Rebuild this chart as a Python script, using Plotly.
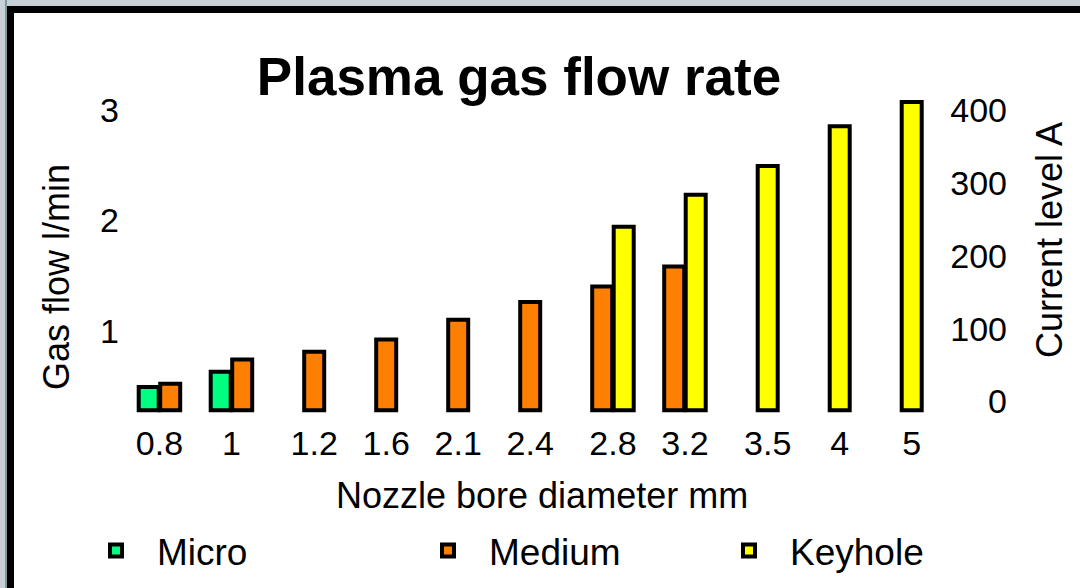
import plotly.graph_objects as go

# ---------------- data ----------------
diameters = ["0.8", "1", "1.2", "1.6", "2.1", "2.4", "2.8", "3.2", "3.5", "4", "5"]
micro = [0.49, 0.63, None, None, None, None, None, None, None, None, None]
medium = [0.52, 0.74, 0.81, 0.92, 1.10, 1.26, 1.40, 1.58, None, None, None]
keyhole = [None, None, None, None, None, None, 1.94, 2.23, 2.49, 2.85, 3.07]
series_names = ["Micro", "Medium", "Keyhole"]
flow_ticks = [1, 2, 3]
current_ticks = [0, 100, 200, 300, 400]
BAR_FLOOR = 0.28  # gas-flow level at which the bars start

# ---------------- styling / layout constants ----------------
FONT = "Liberation Sans, Arial, sans-serif"
COLORS = ["#00ff80", "#ff8000", "#ffff00"]
W, H = 1080, 588
PL, PR_PLOT, PT, PB = 118, 936, 88, 450      # plot area in pixels
PAPER_R = 1015                                # right edge of paper area
BARGAP = 0.104
FLOW_RANGE = [-0.079, 3.196]
CURRENT_RANGE = [-66.8, 431.0]
X_RANGE = [-0.725, 10.636]


def px_x(p):
    return (p - PL) / (PAPER_R - PL)


def px_y(p):
    return (PB - p) / (PB - PT)


series = [micro, medium, keyhole]
idx = list(range(len(diameters)))

fig = go.Figure()
for k, (name, vals, col) in enumerate(zip(series_names, series, COLORS)):
    fig.add_trace(go.Bar(
        name=name,
        x=idx,
        y=[None if v is None else v - BAR_FLOOR for v in vals],
        base=BAR_FLOOR,
        marker=dict(color=col, line=dict(color="black", width=4)),
        legend=["legend", "legend2", "legend3"][k],
        hovertemplate=name + ": %{customdata}<extra></extra>",
        customdata=vals,
    ))

# the current-level axis (right) carries no marks of its own
fig.add_trace(go.Scatter(x=[None], y=[None], yaxis="y2", mode="markers",
                         showlegend=False, hoverinfo="skip"))

# tick labels centred under the bars that are present in each group
slot = (1 - BARGAP) / len(series)
tickvals = []
for i in idx:
    present = [k for k, s in enumerate(series) if s[i] is not None]
    mean_k = sum(present) / len(present)
    tickvals.append(i + (mean_k - (len(series) - 1) / 2) * slot)

tickfont = dict(family=FONT, size=34, color="black")
legfont = dict(family=FONT, size=37, color="black")

legend_common = dict(orientation="h", font=legfont, bgcolor="rgba(0,0,0,0)",
                     yanchor="middle", y=px_y(551), xanchor="left",
                     itemwidth=72, traceorder="normal")

fig.update_layout(
    width=W, height=H,
    template="none",
    paper_bgcolor="white", plot_bgcolor="white",
    margin=dict(l=PL, r=W - PAPER_R, t=PT, b=H - PB, autoexpand=False),
    barmode="group", bargap=BARGAP, bargroupgap=0.07,
    font=dict(family=FONT, color="black"),
    title=dict(text="<b>Plasma gas flow rate</b>",
               font=dict(family=FONT, size=53, color="black"),
               x=519 / W, xanchor="center", xref="container",
               y=1 - 76 / H, yanchor="middle", yref="container"),
    xaxis=dict(domain=[0, px_x(PR_PLOT)], range=X_RANGE,
               tickmode="array", tickvals=tickvals, ticktext=diameters,
               tickfont=tickfont, showgrid=False, zeroline=False,
               showline=False, ticks="", ticklabelstandoff=-30),
    yaxis=dict(range=FLOW_RANGE, tickmode="array", tickvals=flow_ticks,
               tickfont=tickfont, showgrid=False, zeroline=False,
               showline=False, ticks="", ticklabelstandoff=-2),
    yaxis2=dict(range=CURRENT_RANGE, overlaying="y", side="right",
                anchor="free", position=px_x(1010),
                ticklabelposition="inside",
                tickmode="array", tickvals=current_ticks,
                tickfont=tickfont, showgrid=False, zeroline=False,
                showline=False, ticks=""),
    legend=dict(legend_common, x=px_x(75)),
    legend2=dict(legend_common, x=px_x(407)),
    legend3=dict(legend_common, x=px_x(708)),
    showlegend=True,
)

# axis titles
fig.add_annotation(text="Gas flow l/min", textangle=-90, showarrow=False,
                   xref="paper", yref="paper", x=px_x(56), y=px_y(277),
                   xanchor="center", yanchor="middle",
                   font=dict(family=FONT, size=36, color="black"))
fig.add_annotation(text="Current level A", textangle=-90, showarrow=False,
                   xref="paper", yref="paper", x=px_x(1049), y=px_y(240),
                   xanchor="center", yanchor="middle",
                   font=dict(family=FONT, size=36, color="black"))
fig.add_annotation(text="Nozzle bore diameter mm", showarrow=False,
                   xref="paper", yref="paper", x=px_x(542), y=px_y(495),
                   xanchor="center", yanchor="middle",
                   font=dict(family=FONT, size=36, color="black"))

# window frame (grey band + black border on top and left)
GREY = "#c6d0d6"
frame = [
    (0, 0, W, 6, GREY),
    (0, 0, 6, H, GREY),
    (5, 0, 7, H, "#7f9a9a"),
    (7, 6, W, 13, "black"),
    (7, 6, 14, H, "black"),
]
for x0, y0, x1, y1, c in frame:
    fig.add_shape(type="rect", xref="paper", yref="paper", layer="above",
                  x0=px_x(x0), x1=px_x(x1), y0=px_y(y0), y1=px_y(y1),
                  fillcolor=c, line=dict(width=0))

fig.write_html("out.html",
               config={"displayModeBar": False},
               post_script="document.body.style.margin='0';")
